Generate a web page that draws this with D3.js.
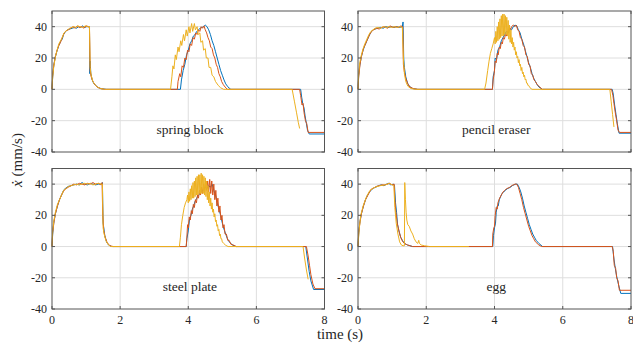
<!DOCTYPE html>
<html>
<head>
<meta charset="utf-8">
<script src="https://cdn.jsdelivr.net/npm/d3@7"></script>
<style>
  body { margin: 0; background: #fff; }
  text { font-family: "Liberation Serif", Tinos, "Times New Roman", Times, "DejaVu Serif", serif; fill: #262626; }
</style>
</head>
<body>
<svg id="chart" width="633" height="343"></svg>
<script>
// axis ticks
var xTicks = [0, 2, 4, 6, 8];
var yTicks = [-40, -20, 0, 20, 40];
var panelNames = ["spring block", "pencil eraser", "steel plate", "egg"];

// ---- spring block ----
var springBlue = [[0,0],[0.02,8],[0.05,15],[0.09,20],[0.14,24],[0.2,28],[0.26,31],[0.3,32],[0.34,35],[0.4,37],[0.46,38],[0.52,38.5],[0.6,39],[0.66,39.5],[0.72,39],[0.78,40],[0.84,39.5],[0.9,40.5],[0.96,39.5],[1.02,40],[1.1,40],[1.11,10],[1.12,18],[1.14,10],[1.18,6],[1.22,4],[1.28,2.5],[1.35,1.2],[1.45,0.4],[1.6,0],
  [3.77,0],[3.8,6],[3.85,12],[3.9,16],[3.95,22],[4.0,25],[4.05,29],[4.1,31],[4.15,34],[4.2,35],[4.25,37],[4.3,38],[4.35,39],[4.4,39.5],[4.45,40],[4.5,41],[4.55,40],[4.6,38],[4.65,35],[4.7,31],[4.75,28],[4.8,24],[4.85,20],[4.9,16],[4.95,12],[5.0,9],[5.05,6],[5.1,3.5],[5.15,2],[5.2,0.8],[5.25,0],
  [7.3,0],[7.33,-5],[7.36,-9],[7.4,-12],[7.43,-17],[7.47,-22],[7.5,-26],[7.55,-28.5],[8,-28.5]];
var springRed = [[0,0],[0.02,9],[0.05,15],[0.1,21],[0.15,25],[0.2,28],[0.25,30],[0.3,33],[0.36,36],[0.42,37.5],[0.48,38],[0.55,39],[0.62,40],[0.68,39],[0.74,40.5],[0.8,39.5],[0.88,40],[0.94,39],[1.0,40.5],[1.08,40],[1.1,39],[1.12,12],[1.15,8],[1.2,5],[1.26,3],[1.32,1.5],[1.42,0.5],[1.55,0],
  [3.68,0],[3.7,5],[3.75,10],[3.78,8],[3.82,15],[3.86,14],[3.9,20],[3.94,19],[3.98,25],[4.02,24],[4.06,29],[4.1,28],[4.14,33],[4.18,32],[4.22,36],[4.26,35],[4.3,38],[4.34,37],[4.38,40],[4.42,39],[4.46,40.5],[4.5,38],[4.54,36],[4.58,33],[4.62,31],[4.66,27],[4.7,26],[4.74,22],[4.78,20],[4.82,16],[4.86,14],[4.9,10],[4.94,8],[4.98,5],[5.03,3],[5.08,1.5],[5.15,0],
  [7.27,0],[7.3,-4],[7.34,-10],[7.37,-9],[7.4,-15],[7.44,-20],[7.48,-22],[7.52,-27.5],[8,-27.5]];
var springYellow = [[0,0],[0.02,8],[0.05,14],[0.1,21],[0.15,25],[0.2,29],[0.25,31],[0.3,33],[0.35,36],[0.4,37],[0.46,38],[0.52,39],[0.58,39.5],[0.64,40],[0.7,39.5],[0.76,40.5],[0.82,40],[0.9,39.5],[0.98,40.5],[1.05,40],[1.1,40],[1.12,14],[1.15,9],[1.2,5],[1.26,3],[1.33,1.5],[1.42,0.5],[1.55,0],
  [3.48,0],[3.52,8],[3.55,15],[3.58,13],[3.62,22],[3.65,19],[3.7,27],[3.73,24],[3.78,31],[3.81,28],[3.86,35],[3.89,31],[3.94,38],[3.97,34],[4.02,40],[4.05,36],[4.1,42],[4.13,37],[4.18,42],[4.21,38],[4.26,40],[4.29,35],[4.34,36],[4.37,30],[4.42,31],[4.45,25],[4.5,26],[4.53,20],[4.58,20],[4.61,14],[4.66,14],[4.7,9],[4.75,8],[4.8,5],[4.88,2.5],[4.95,1],[5.04,0],
  [7.05,0],[7.12,-8],[7.18,-15],[7.23,-21],[7.27,-25]];

// ---- pencil eraser ----
var pencilBlue = [[0,0],[0.02,9],[0.05,15],[0.1,21],[0.15,25],[0.2,28],[0.26,31],[0.32,34],[0.38,36.5],[0.44,38],[0.5,38.5],[0.58,39],[0.66,39.5],[0.74,39],[0.82,40],[0.9,39.5],[0.98,40],[1.06,39.5],[1.14,40],[1.22,39.5],[1.3,40],[1.32,43],[1.34,20],[1.36,14],[1.4,8],[1.45,4],[1.5,2],[1.6,0.5],[1.75,0],
  [3.94,0],[3.96,8],[4.0,12],[4.02,20],[4.06,19],[4.1,25],[4.15,27],[4.2,31],[4.25,33],[4.3,35],[4.35,37],[4.4,36],[4.45,39],[4.5,38],[4.55,40],[4.6,41],[4.65,40.5],[4.7,38],[4.75,36],[4.8,32],[4.85,29],[4.9,25],[4.95,21],[5.0,17],[5.05,14],[5.1,10],[5.15,7],[5.2,5],[5.25,3],[5.3,1.5],[5.4,0],
  [7.45,0],[7.48,-3],[7.52,-10],[7.56,-16],[7.6,-22],[7.65,-28],[8,-28]];
var pencilRed = [[0,0],[0.02,8],[0.06,16],[0.1,21],[0.16,26],[0.22,29],[0.28,32],[0.34,35],[0.4,37],[0.46,38],[0.54,39],[0.62,38.5],[0.7,39.5],[0.78,40],[0.86,39],[0.94,40.5],[1.02,39.5],[1.1,40],[1.18,39.5],[1.26,40.5],[1.31,40],[1.33,16],[1.36,11],[1.4,7],[1.46,3.5],[1.52,1.5],[1.62,0.5],[1.75,0],
  [3.94,0],[3.96,6],[3.99,10],[4.02,18],[4.05,17],[4.08,23],[4.11,22],[4.14,27],[4.17,26],[4.2,30],[4.23,29],[4.26,33],[4.29,32],[4.32,35],[4.35,34],[4.38,37],[4.41,36],[4.44,39],[4.47,38],[4.5,40],[4.55,41],[4.6,40],[4.64,41],[4.68,38],[4.72,37],[4.76,33],[4.8,32],[4.84,28],[4.88,27],[4.92,22],[4.96,21],[5.0,16],[5.04,15],[5.08,10],[5.12,9],[5.16,6],[5.2,5],[5.25,3],[5.3,2],[5.4,0],
  [7.43,0],[7.47,-4],[7.5,-9],[7.54,-15],[7.58,-20],[7.62,-26],[7.66,-27.5],[8,-27.5]];
var pencilYellow = [[0,0],[0.02,10],[0.05,17],[0.1,22],[0.15,26],[0.2,29],[0.26,32],[0.32,35],[0.38,37],[0.44,38],[0.5,39],[0.58,39.5],[0.66,39],[0.74,40],[0.82,39.5],[0.9,40],[0.98,39.5],[1.06,40],[1.14,39.5],[1.22,40],[1.3,39.5],[1.33,20],[1.36,10],[1.4,5],[1.46,2],[1.55,0.5],[1.7,0],
  [3.71,0],[3.75,4],[3.8,12],[3.84,18],[3.88,23],[3.92,26],[3.96,29],
  [4.0,33],[4.02,29],[4.04,37],[4.06,30],[4.08,40],[4.1,31],[4.12,43],[4.14,32],[4.16,45],[4.18,33],[4.2,47],[4.22,34],[4.24,48],[4.26,34],[4.28,48],[4.3,35],[4.32,47],[4.34,35],[4.36,46],[4.38,34],[4.4,44],[4.42,32],[4.44,41],[4.46,30],[4.48,38],[4.5,29],[4.52,33],[4.54,27],[4.56,30],[4.58,25],[4.6,27],[4.62,22],[4.64,24],[4.66,20],[4.68,21],[4.7,17],[4.72,19],[4.74,15],[4.76,16],[4.78,12],[4.8,14],[4.82,10],[4.84,11],[4.86,8],[4.88,9],[4.9,6],[4.92,6.5],[4.94,4],[4.96,4],[4.98,2.5],[5.0,2.5],[5.04,1],[5.1,0],
  [7.38,0],[7.42,-8],[7.46,-16],[7.5,-24]];

// ---- steel plate ----
var steelBlue = [[0,0],[0.02,8],[0.05,15],[0.1,21],[0.16,26],[0.22,30],[0.28,33],[0.34,36],[0.4,37.5],[0.48,38.5],[0.56,39],[0.64,39.5],[0.72,40],[0.8,39.5],[0.88,41],[0.96,40],[1.04,39.5],[1.12,40.5],[1.2,40],[1.28,39.5],[1.36,40],[1.44,40],[1.48,41],[1.5,15],[1.52,12],[1.55,7],[1.6,3],[1.66,1],[1.75,0],
  [3.94,0],[3.96,5],[4.0,10],[4.04,18],[4.08,20],[4.12,24],[4.16,26],[4.2,29],[4.25,31],[4.3,33],[4.35,34],[4.4,36],[4.45,36],[4.5,38],[4.55,37],[4.6,39],[4.65,38],[4.7,40],[4.75,36],[4.8,33],[4.85,28],[4.9,24],[4.95,20],[5.0,15],[5.05,11],[5.1,8],[5.15,5],[5.2,3],[5.3,1],[5.4,0],
  [7.45,0],[7.5,-8],[7.55,-16],[7.6,-22],[7.68,-27.5],[8,-27.5]];
var steelRed = [[0,0],[0.02,9],[0.06,16],[0.1,21],[0.16,26],[0.22,30],[0.28,33],[0.34,35.5],[0.4,37],[0.48,38],[0.56,39],[0.64,40],[0.72,39.5],[0.8,40.5],[0.88,40],[0.96,39.5],[1.04,40.5],[1.12,40],[1.2,41],[1.28,40],[1.36,40.5],[1.44,39.5],[1.47,41],[1.49,20],[1.52,10],[1.56,6],[1.62,2.5],[1.7,0.5],[1.8,0],
  [3.94,0],[3.96,6],[3.98,14],[4.0,12],[4.03,19],[4.06,17],[4.09,23],[4.12,21],[4.15,27],[4.18,25],[4.21,30],[4.24,28],[4.27,33],[4.3,31],[4.33,36],[4.36,33],[4.39,38],[4.42,34],[4.45,40],[4.48,35],[4.51,42],[4.54,36],[4.57,42],[4.6,35],[4.63,43],[4.66,34],[4.69,42],[4.72,33],[4.75,40],[4.78,30],[4.81,36],[4.84,26],[4.87,31],[4.9,22],[4.93,26],[4.96,17],[4.99,20],[5.02,12],[5.05,14],[5.08,8],[5.12,8],[5.16,4],[5.2,4],[5.25,1.5],[5.32,1],[5.41,0],
  [7.47,0],[7.52,-6],[7.56,-12],[7.6,-18],[7.66,-24],[7.72,-27],[8,-27]];
var steelYellow = [[0,0],[0.02,10],[0.05,16],[0.1,22],[0.16,27],[0.22,30],[0.28,33],[0.34,36],[0.4,37],[0.48,38.5],[0.56,39],[0.64,39.5],[0.72,40],[0.8,39.5],[0.88,40],[0.96,40.5],[1.04,40],[1.12,40.5],[1.2,39.5],[1.28,40],[1.36,40.5],[1.44,40],[1.48,40],[1.5,12],[1.53,8],[1.58,4],[1.64,1.5],[1.72,0],
  [3.74,0],[3.77,6],[3.8,14],[3.84,20],[3.88,25],[3.92,28],[3.96,30],
  [3.98,33],[4.0,28],[4.02,35],[4.04,29],[4.06,37],[4.08,30],[4.1,39],[4.12,31],[4.14,41],[4.16,31],[4.18,42],[4.2,32],[4.22,44],[4.24,33],[4.26,45],[4.28,33],[4.3,46],[4.32,34],[4.34,46],[4.36,34],[4.38,47],[4.4,34],[4.42,46],[4.44,34],[4.46,45],[4.48,33],[4.5,44],[4.52,32],[4.54,42],[4.56,30],[4.58,39],[4.6,28],[4.62,35],[4.64,26],[4.66,31],[4.68,24],[4.7,28],[4.72,22],[4.74,24],[4.76,19],[4.78,21],[4.8,16],[4.82,17],[4.84,13],[4.86,14],[4.88,10],[4.9,11],[4.92,7],[4.94,8],[4.96,5],[4.98,5],[5.0,3],[5.04,2],[5.1,0.8],[5.17,0],
  [7.37,0],[7.42,-8],[7.47,-15],[7.52,-21]];

// ---- egg ----
var eggBlue = [[0,0],[0.02,8],[0.05,15],[0.1,21],[0.16,26],[0.22,30],[0.28,33],[0.34,35],[0.4,36.5],[0.46,37.5],[0.52,38],[0.6,39],[0.68,39.5],[0.76,39],[0.84,40],[0.9,40.5],[0.96,39.5],[1.04,40],[1.07,39],[1.1,28],[1.13,22],[1.16,14],[1.2,10],[1.25,6],[1.3,4],[1.36,2],[1.45,1],[1.6,0],
  [3.95,0],[3.97,7],[4.0,12],[4.03,15],[4.05,22],[4.08,26],[4.11,26],[4.14,30],[4.18,32],[4.22,34],[4.27,35],[4.32,36],[4.37,37],[4.42,37.5],[4.47,38],[4.52,39],[4.57,39.5],[4.62,40],[4.67,40],[4.72,38],[4.77,35],[4.82,31],[4.87,26],[4.92,22],[4.97,18],[5.02,14],[5.07,11],[5.12,8],[5.17,6],[5.22,4],[5.3,2],[5.41,0],
  [7.46,0],[7.5,-8],[7.54,-14],[7.58,-19],[7.63,-24],[7.7,-30],[8,-30]];
var eggRed = [[0,0],[0.02,9],[0.06,16],[0.1,21],[0.16,26],[0.22,30],[0.28,32.5],[0.34,35],[0.4,37],[0.46,37.5],[0.54,38.5],[0.62,39],[0.7,39.5],[0.78,39.5],[0.86,40],[0.92,40.5],[1.0,39.5],[1.06,40],[1.08,30],[1.11,22],[1.15,15],[1.2,10],[1.25,6],[1.3,3.5],[1.36,2],[1.45,1],[1.6,0],
  [3.94,0],[3.95,8],[3.98,12],[4.0,13],[4.02,20],[4.05,25],[4.08,24],[4.1,28],[4.15,31],[4.2,33],[4.25,35],[4.3,36],[4.35,37],[4.4,37.5],[4.45,38],[4.5,39],[4.55,39.5],[4.6,40],[4.65,40],[4.7,38],[4.75,34],[4.8,30],[4.85,25],[4.9,21],[4.95,17],[5.0,13],[5.05,10],[5.1,7],[5.15,5],[5.2,3],[5.3,1],[5.38,0],
  [7.45,0],[7.48,-3],[7.51,-12],[7.55,-14],[7.58,-20],[7.62,-22],[7.66,-28],[8,-28]];
var eggYellow = [[0,0],[0.03,10],[0.08,20],[0.15,26],[0.25,32],[0.35,36],[0.5,38],[0.65,39],[0.8,39.5],[0.92,40.5],[1.0,39.5],[1.05,39],[1.08,25],[1.12,15],[1.17,8],[1.22,3],[1.27,1],[1.32,0.5],[1.36,0.5],[1.37,41],[1.39,30],[1.41,22],[1.43,17],[1.46,14],[1.5,13],[1.55,10],[1.6,8],[1.65,5],[1.7,3],[1.75,2],[1.78,4],[1.8,2],[1.85,1],[1.95,0.5],[2.1,0],[3.25,0]];

var seriesByPanel = [
  [springBlue, springRed, springYellow],
  [pencilBlue, pencilRed, pencilYellow],
  [steelBlue, steelRed, steelYellow],
  [eggBlue, eggRed, eggYellow]
];
var colors = ["#0072BD", "#D95319", "#EDB120"];

var svg = d3.select("#chart");

// panel boxes in pixels
var cols = [[52, 324.5], [358, 631]];
var rows = [[11, 152], [168.5, 309]];

panelNames.forEach(function (name, i) {
  var c = cols[i % 2], r = rows[Math.floor(i / 2)];
  var x = d3.scaleLinear().domain([0, 8]).range(c);
  var y = d3.scaleLinear().domain([-40, 50]).range([r[1], r[0]]);
  var g = svg.append("g");

  // grid
  g.selectAll(".gx").data(xTicks.slice(1, -1)).enter().append("line")
    .attr("x1", function (d) { return x(d); }).attr("x2", function (d) { return x(d); })
    .attr("y1", r[0]).attr("y2", r[1])
    .attr("stroke", "#dedede").attr("stroke-width", 1);
  g.selectAll(".gy").data(yTicks.slice(1)).enter().append("line")
    .attr("x1", c[0]).attr("x2", c[1])
    .attr("y1", function (d) { return y(d); }).attr("y2", function (d) { return y(d); })
    .attr("stroke", "#dedede").attr("stroke-width", 1);

  // lines
  var line = d3.line().x(function (d) { return x(d[0]); }).y(function (d) { return y(d[1]); });
  seriesByPanel[i].forEach(function (s, k) {
    g.append("path").datum(s)
      .attr("d", line)
      .attr("fill", "none")
      .attr("stroke", colors[k])
      .attr("stroke-width", 1)
      .attr("stroke-linejoin", "round");
  });

  // frame
  g.append("rect")
    .attr("x", c[0]).attr("y", r[0])
    .attr("width", c[1] - c[0]).attr("height", r[1] - r[0])
    .attr("fill", "none").attr("stroke", "#555").attr("stroke-width", 1);

  // inward ticks
  xTicks.forEach(function (t) {
    g.append("line").attr("x1", x(t)).attr("x2", x(t)).attr("y1", r[1]).attr("y2", r[1] - 3).attr("stroke", "#555");
    g.append("line").attr("x1", x(t)).attr("x2", x(t)).attr("y1", r[0]).attr("y2", r[0] + 3).attr("stroke", "#555");
  });
  yTicks.forEach(function (t) {
    g.append("line").attr("x1", c[0]).attr("x2", c[0] + 3).attr("y1", y(t)).attr("y2", y(t)).attr("stroke", "#555");
    g.append("line").attr("x1", c[1]).attr("x2", c[1] - 3).attr("y1", y(t)).attr("y2", y(t)).attr("stroke", "#555");
  });

  // y tick labels
  g.selectAll(".yl").data(yTicks).enter().append("text")
    .attr("x", c[0] - 5).attr("y", function (d) { return y(d) + 4; })
    .attr("text-anchor", "end").attr("font-size", 12)
    .text(function (d) { return d; });

  // x tick labels (bottom row only)
  if (i >= 2) {
    g.selectAll(".xl").data(xTicks).enter().append("text")
      .attr("x", function (d) { return x(d); }).attr("y", r[1] + 15)
      .attr("text-anchor", "middle").attr("font-size", 12)
      .text(function (d) { return d; });
  }

  // panel label
  g.append("text")
    .attr("x", x(4.05)).attr("y", y(-26) + 4)
    .attr("text-anchor", "middle").attr("font-size", 13.5)
    .text(name);
});

// axis titles
svg.append("text")
  .attr("x", 340).attr("y", 339)
  .attr("text-anchor", "middle").attr("font-size", 15)
  .text("time (s)");

var yl = svg.append("text")
  .attr("transform", "translate(22,160) rotate(-90)")
  .attr("text-anchor", "middle").attr("font-size", 15);
yl.append("tspan").attr("font-style", "italic").text("\u1E8B");
yl.append("tspan").text(" (mm/s)");
</script>
</body>
</html>
